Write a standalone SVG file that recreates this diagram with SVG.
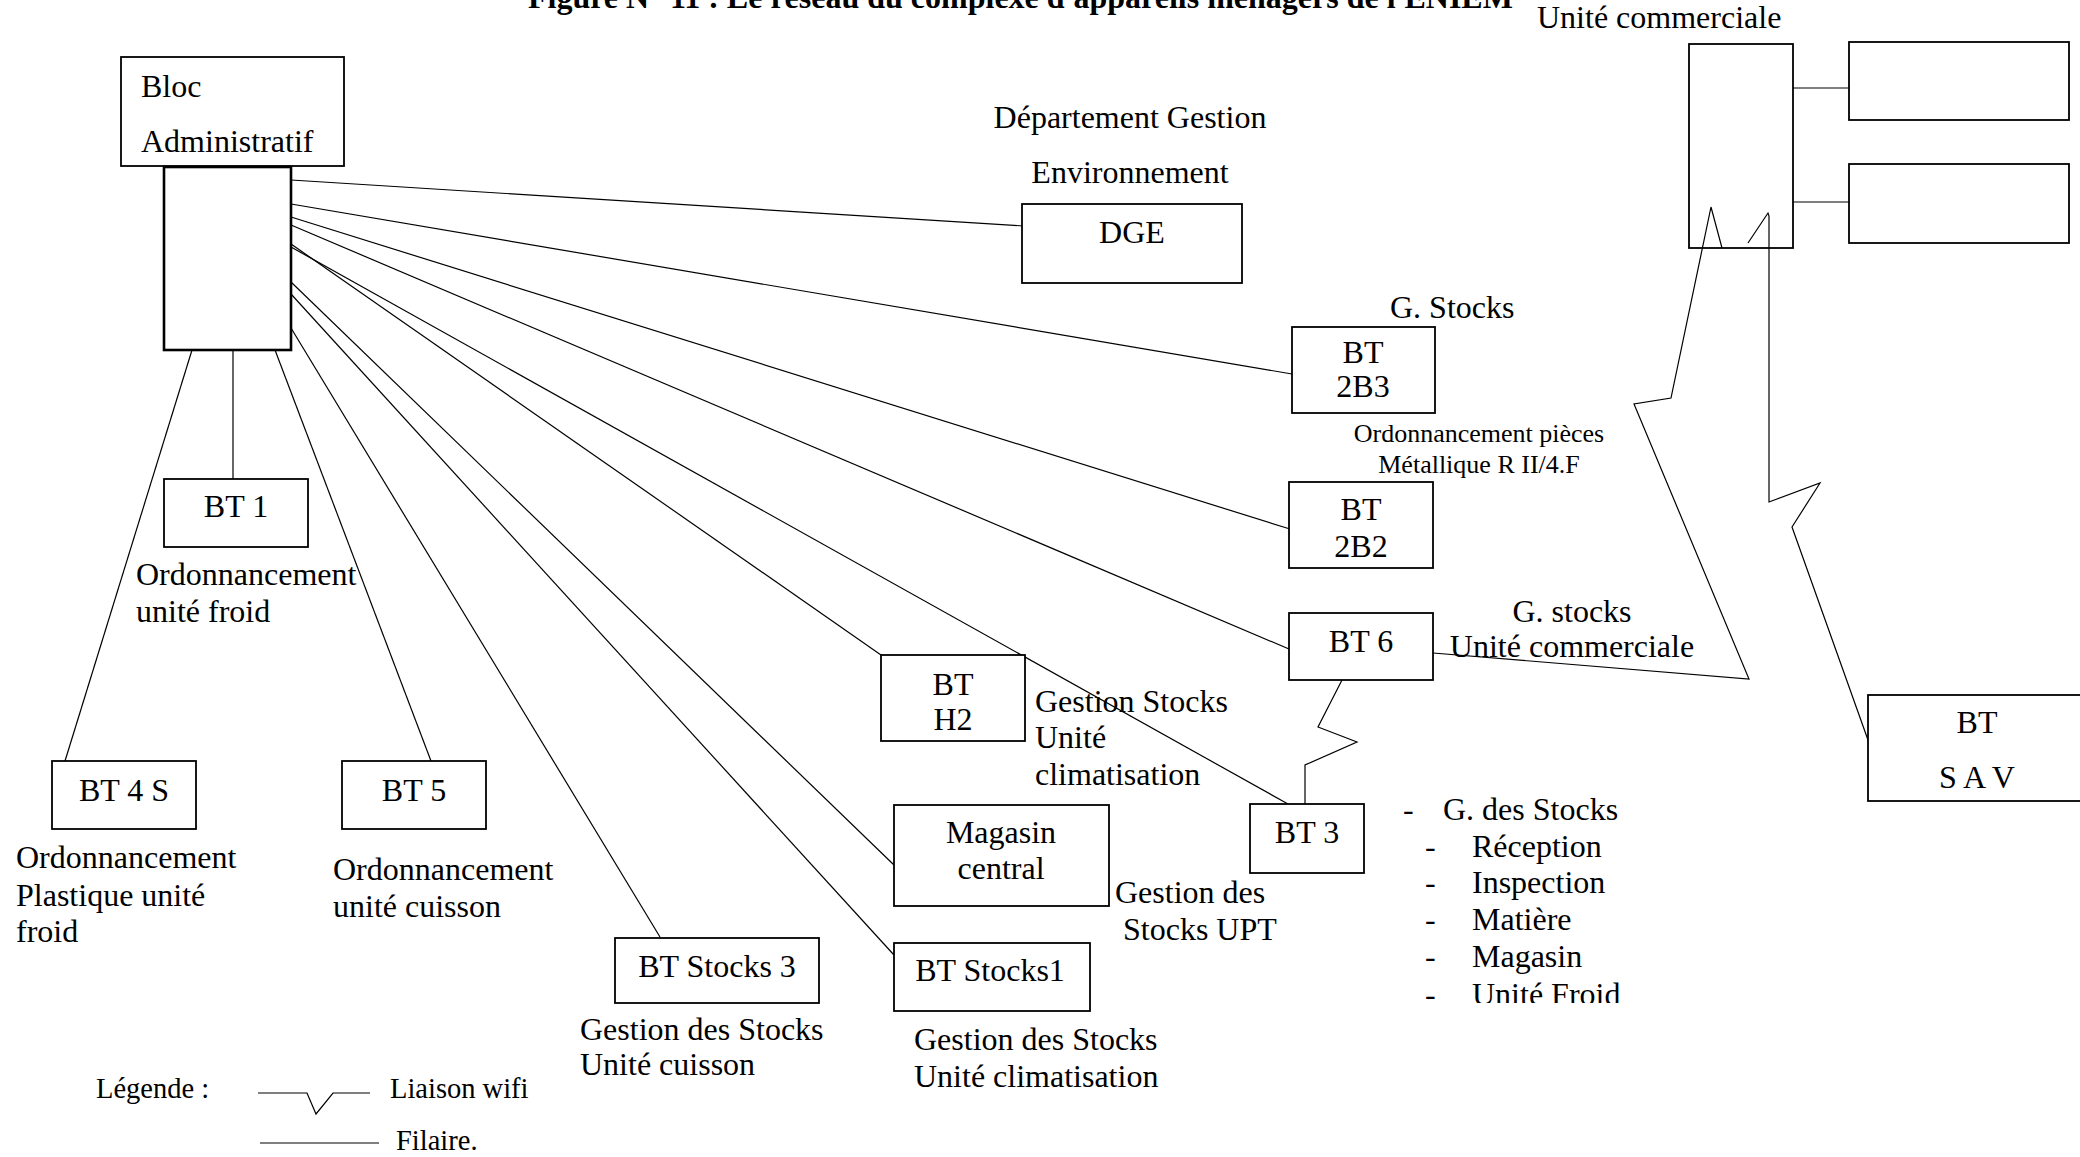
<svg xmlns="http://www.w3.org/2000/svg" width="2080" height="1157" viewBox="0 0 2080 1157">
  <style>
    .box { fill: #fff; stroke: #000; stroke-width: 1.8; }
    .open { fill: none; }
    .thick { stroke-width: 2.6; }
    .ln { fill: none; stroke: #000; stroke-width: 1.2; }
    text { font-family: "Liberation Serif", "Times New Roman", serif; font-size: 32px; fill: #000; }
    .c { text-anchor: middle; }
    .sm { font-size: 26px; }
    .lg { font-size: 28.5px; }
    .title { font-weight: bold; }
  </style>
  <defs>
    <clipPath id="listClip">
      <rect x="1380" y="780" width="300" height="223"/>
    </clipPath>
  </defs>
  <rect width="2080" height="1157" fill="#fff"/>

  <text class="title" x="528" y="8">Figure N° 11 : Le réseau du complexe d'appareils ménagers de l'ENIEM</text>

  <!-- wired and wifi links -->
  <g id="connectors">
    <line class="ln" x1="291" y1="180" x2="1024" y2="226"/>
    <line class="ln" x1="291" y1="204" x2="1292" y2="374"/>
    <line class="ln" x1="291" y1="217" x2="1290" y2="529"/>
    <line class="ln" x1="291" y1="225" x2="1289" y2="649"/>
    <line class="ln" x1="291" y1="244" x2="881" y2="655"/>
    <line class="ln" x1="291" y1="247" x2="1288" y2="804"/>
    <line class="ln" x1="291" y1="282" x2="894" y2="865"/>
    <line class="ln" x1="291" y1="294" x2="894" y2="955"/>
    <line class="ln" x1="291" y1="328" x2="660" y2="937"/>
    <line class="ln" x1="275" y1="350" x2="431" y2="761"/>
    <line class="ln" x1="192" y1="350" x2="65" y2="761"/>
    <line class="ln" x1="233" y1="344" x2="233" y2="479"/>
    <!-- BT 6 to BT 3 (wifi) -->
    <polyline class="ln" points="1342,680 1318,727 1357,742 1305,765 1305,804"/>
    <!-- BT 6 to Unité commerciale (wifi) -->
    <polyline class="ln" points="1433,653 1749,679 1634,404 1671,398 1711,207 1722,248"/>
    <!-- Unité commerciale to BT SAV (wifi) -->
    <polyline class="ln" points="1748,243 1768,213 1769,216 1769,502 1820,483 1792,527 1868,740"/>
    <!-- Unité commerciale to side boxes -->
    <line class="ln" x1="1793" y1="88" x2="1849" y2="88"/>
    <line class="ln" x1="1793" y1="202" x2="1849" y2="202"/>
  </g>

  <g id="bloc-administratif">
    <rect class="box" x="121" y="57" width="223" height="109"/>
    <text x="141" y="97">Bloc</text>
    <text x="141" y="152">Administratif</text>
    <rect class="box thick" x="164" y="167" width="127" height="183"/>
  </g>

  <g id="dge">
    <text class="c" x="1130" y="128">Département Gestion</text>
    <text class="c" x="1130" y="183">Environnement</text>
    <rect class="box" x="1022" y="204" width="220" height="79"/>
    <text class="c" x="1132" y="243">DGE</text>
  </g>

  <g id="bt-2b3">
    <text x="1390" y="318">G. Stocks</text>
    <rect class="box" x="1292" y="327" width="143" height="86"/>
    <text class="c" x="1363" y="363">BT</text>
    <text class="c" x="1363" y="397">2B3</text>
  </g>

  <g id="bt-2b2">
    <text class="sm c" x="1479" y="442">Ordonnancement pièces</text>
    <text class="sm c" x="1479" y="473">Métallique R II/4.F</text>
    <rect class="box" x="1289" y="482" width="144" height="86"/>
    <text class="c" x="1361" y="520">BT</text>
    <text class="c" x="1361" y="557">2B2</text>
  </g>

  <g id="bt-6">
    <rect class="box" x="1289" y="613" width="144" height="67"/>
    <text class="c" x="1361" y="652">BT 6</text>
    <text class="c" x="1572" y="622">G. stocks</text>
    <text class="c" x="1572" y="657">Unité commerciale</text>
  </g>

  <g id="bt-1">
    <rect class="box" x="164" y="479" width="144" height="68"/>
    <text class="c" x="236" y="517">BT 1</text>
    <text x="136" y="585">Ordonnancement</text>
    <text x="136" y="622">unité froid</text>
  </g>

  <g id="bt-4s">
    <rect class="box" x="52" y="761" width="144" height="68"/>
    <text class="c" x="124" y="801">BT 4 S</text>
    <text x="16" y="868">Ordonnancement</text>
    <text x="16" y="906">Plastique unité</text>
    <text x="16" y="942">froid</text>
  </g>

  <g id="bt-5">
    <rect class="box" x="342" y="761" width="144" height="68"/>
    <text class="c" x="414" y="801">BT 5</text>
    <text x="333" y="880">Ordonnancement</text>
    <text x="333" y="917">unité cuisson</text>
  </g>

  <g id="bt-stocks-3">
    <rect class="box" x="615" y="938" width="204" height="65"/>
    <text class="c" x="717" y="977">BT Stocks 3</text>
    <text x="580" y="1040">Gestion des Stocks</text>
    <text x="580" y="1075">Unité cuisson</text>
  </g>

  <g id="bt-stocks1">
    <rect class="box" x="894" y="943" width="196" height="68"/>
    <text class="c" x="990" y="981">BT Stocks1</text>
    <text x="914" y="1050">Gestion des Stocks</text>
    <text x="914" y="1087">Unité climatisation</text>
  </g>

  <g id="magasin-central">
    <rect class="box" x="894" y="805" width="215" height="101"/>
    <text class="c" x="1001" y="843">Magasin</text>
    <text class="c" x="1001" y="879">central</text>
    <text x="1115" y="903">Gestion des</text>
    <text x="1123" y="940">Stocks UPT</text>
  </g>

  <g id="bt-h2">
    <rect class="box" x="881" y="655" width="144" height="86"/>
    <text class="c" x="953" y="695">BT</text>
    <text class="c" x="953" y="730">H2</text>
    <text x="1035" y="712">Gestion Stocks</text>
    <text x="1035" y="748">Unité</text>
    <text x="1035" y="785">climatisation</text>
  </g>

  <g id="bt-3">
    <rect class="box" x="1250" y="804" width="114" height="69"/>
    <text class="c" x="1307" y="843">BT 3</text>
    <g clip-path="url(#listClip)">
      <text x="1403" y="820">-</text>
      <text x="1443" y="820">G. des Stocks</text>
      <text x="1425" y="857">-</text>
      <text x="1472" y="857">Réception</text>
      <text x="1425" y="893">-</text>
      <text x="1472" y="893">Inspection</text>
      <text x="1425" y="930">-</text>
      <text x="1472" y="930">Matière</text>
      <text x="1425" y="967">-</text>
      <text x="1472" y="967">Magasin</text>
      <text x="1425" y="1005">-</text>
      <text x="1472" y="1005">Unité Froid</text>
    </g>
  </g>

  <g id="unite-commerciale">
    <text x="1537" y="28">Unité commerciale</text>
    <rect class="box open" x="1689" y="44" width="104" height="204"/>
  </g>

  <g id="annexe-1">
    <rect class="box" x="1849" y="42" width="220" height="78"/>
  </g>

  <g id="annexe-2">
    <rect class="box" x="1849" y="164" width="220" height="79"/>
  </g>

  <g id="bt-sav">
    <rect class="box" x="1868" y="695" width="230" height="106"/>
    <text class="c" x="1977" y="733">BT</text>
    <text class="c" x="1977" y="788">S A V</text>
  </g>

  <g id="legende">
    <text class="lg" x="96" y="1098">Légende :</text>
    <polyline class="ln" points="258,1093 307,1093 316,1114 333,1093 370,1093"/>
    <text class="lg" x="390" y="1098">Liaison wifi</text>
    <line class="ln" x1="260" y1="1143" x2="379" y2="1143"/>
    <text class="lg" x="396" y="1150">Filaire.</text>
  </g>
</svg>
